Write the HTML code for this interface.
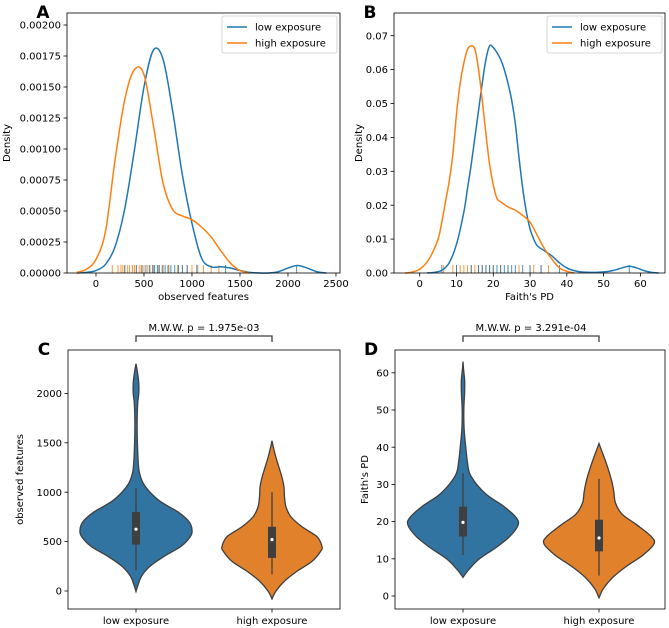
<!DOCTYPE html>
<html><head><meta charset="utf-8"><style>
body{margin:0;background:#fff}
svg{display:block;font-family:"DejaVu Sans","Liberation Sans",sans-serif}
</style></head><body>
<svg id="chart" width="669" height="628" viewBox="0 0 669 628"></svg>
<script>
// ---------- DATA ----------
const kdeAx = [-200,-100,0,100,200,300,400,500,600,700,800,900,1000,1100,1200,1300,1400,1500,1600,1700,1800,1900,2000,2100,2200,2300,2400];
const kdeAlow = [0,0.000005,0.00002,0.00007,0.000215,0.00052,0.00099,0.0015,0.0018,0.00172,0.0013,0.00079,0.0004,0.00012,0.00005,0.00005,0.00004,0.00002,0.000005,0,0,0.00001,0.00004,0.00006,0.00004,0.00001,0];
const kdeAhx = [-200,-100,0,100,200,300,400,500,600,700,800,900,1000,1100,1200,1300,1400,1500,1600];
const kdeAhigh = [0.000005,0.00003,0.00011,0.00034,0.00092,0.0014,0.00164,0.0016,0.00118,0.00072,0.00051,0.00046,0.00043,0.00037,0.00029,0.00018,0.00008,0.00002,0];
const rugAlow = [300,420,480,520,560,590,610,640,660,690,720,750,780,820,860,900,950,1050,1350,2090];
const rugAhigh = [170,230,260,280,300,330,350,380,400,420,450,470,500,540,560,600,650,700,760,850,900,950,1000,1060,1120,1200,1280];
const kdeBx = [2,4,6,8,10,12,13,14,15,16,17,18,19,20,21,22,23,24,25,26,27,28,29,30,31,32,34,36,38,40,42,44,48,52,55,57,59,61,63,65];
const kdeBlow = [0,0.0002,0.0008,0.003,0.0085,0.018,0.025,0.032,0.04,0.048,0.056,0.063,0.067,0.0665,0.065,0.063,0.06,0.056,0.051,0.044,0.034,0.025,0.018,0.013,0.01,0.008,0.0065,0.005,0.003,0.0015,0.0007,0.0003,0.0002,0.0006,0.0015,0.002,0.0015,0.0007,0.0002,0];
const kdeBhx = [-4,-3,-1,1,3,5,6,7,8,9,10,11,12,13,14,15,16,17,18,19,20,21,22,24,26,28,30,32,34,36,38,40,42];
const kdeBhigh = [0,0.0001,0.0006,0.002,0.005,0.01,0.015,0.021,0.027,0.035,0.047,0.056,0.062,0.066,0.067,0.066,0.06,0.051,0.041,0.032,0.026,0.022,0.021,0.0195,0.0185,0.017,0.015,0.011,0.007,0.004,0.0015,0.0005,0];
const rugBlow = [6,10,14,16,17,18,19,20,21,22,23,24,25,26,28,30,33,38,57];
const rugBhigh = [6.5,9,10,11,12,13,14,15,16,17,18,19,20,22,24,27,30,31,33,35];
const categories = ["low exposure","high exposure"];
const vCy_low = [-5,50,150,250,350,450,550,620,700,800,900,1000,1100,1200,1300,1500,1700,1900,2000,2100,2200,2300];
const vCw_low = [0,0.03,0.1,0.25,0.5,0.8,0.97,1,0.95,0.75,0.45,0.25,0.12,0.06,0.04,0.025,0.02,0.03,0.05,0.05,0.03,0];
const vCy_high = [-80,0,100,200,300,400,450,550,650,750,850,950,1050,1150,1250,1350,1450,1520];
const vCw_high = [0,0.08,0.25,0.5,0.8,0.97,1,0.9,0.6,0.38,0.28,0.25,0.24,0.2,0.14,0.08,0.03,0];
const boxC_low = [210,470,625,800,1040];
const boxC_high = [170,335,520,650,1000];
const vDy_low = [5,7,10,13,16,19,21,24,27,30,33,36,40,45,50,55,58,61,63];
const vDw_low = [0,0.1,0.3,0.6,0.85,1,0.97,0.75,0.45,0.25,0.12,0.08,0.05,0.02,0.015,0.03,0.03,0.01,0];
const vDy_high = [-0.5,2,5,8,11,14,16,19,22,25,28,31,34,37,39,41];
const vDw_high = [0,0.08,0.25,0.5,0.8,1,0.95,0.7,0.42,0.3,0.27,0.23,0.17,0.1,0.05,0];
const boxD_low = [11,16,19.8,24,33];
const boxD_high = [5.5,12,15.6,20.5,31.5];
const ticksAx=[0,500,1000,1500,2000,2500];
const ticksAy=[0,0.00025,0.0005,0.00075,0.001,0.00125,0.0015,0.00175,0.002];
const ticksBx=[0,10,20,30,40,50,60];
const ticksBy=[0,0.01,0.02,0.03,0.04,0.05,0.06,0.07];
const ticksCy=[0,500,1000,1500,2000];
const ticksDy=[0,10,20,30,40,50,60];

// ---------- DRAW ----------
const svg=document.getElementById('chart');
const NS='http://www.w3.org/2000/svg';
function mk(tag,attrs,parent,text){const e=document.createElementNS(NS,tag);for(const k in attrs)e.setAttribute(k,attrs[k]);if(text!==undefined)e.textContent=text;(parent||svg).appendChild(e);return e;}
function lin(d0,d1,p0,p1){return v=>p0+(v-d0)*(p1-p0)/(d1-d0);}
function smooth(pts){let d='M'+pts[0][0]+','+pts[0][1];for(let i=0;i<pts.length-1;i++){const p0=pts[Math.max(i-1,0)],p1=pts[i],p2=pts[i+1],p3=pts[Math.min(i+2,pts.length-1)];const c1=[p1[0]+(p2[0]-p0[0])/6,p1[1]+(p2[1]-p0[1])/6],c2=[p2[0]-(p3[0]-p1[0])/6,p2[1]-(p3[1]-p1[1])/6];d+=` C${c1[0]},${c1[1]} ${c2[0]},${c2[1]} ${p2[0]},${p2[1]}`;}return d;}
function frame(g,L,T,R,B){
  const r=mk('rect',{x:L,y:T,width:R-L,height:B-T,fill:'none',stroke:'#000','stroke-width':0.8},g);
  
  
}
function yTicks(g,ticks,sy,L,fmt,name){
  ticks.forEach(t=>{const y=sy(t);
    const l=mk('line',{x1:L-3.5,x2:L,y1:y,y2:y,stroke:'#000','stroke-width':0.8},g);
    
    
    const tx=mk('text',{x:L-6,y:y+3.6,'text-anchor':'end','font-size':10,fill:'#000'},g,fmt(t));
    
    
  });
}
function xTicks(g,ticks,sx,B,fmt,name){
  ticks.forEach(t=>{const x=sx(t);
    const l=mk('line',{x1:x,x2:x,y1:B,y2:B+3.5,stroke:'#000','stroke-width':0.8},g);
    
    
    const tx=mk('text',{x:x,y:B+14,'text-anchor':'middle','font-size':10,fill:'#000'},g,fmt(t));
    
    
  });
}
function label(g,txt,x,y,rot,name,size,weight){
  const t=mk('text',{x:x,y:y,'text-anchor':'middle','font-size':size||10,fill:'#000','font-weight':weight||'normal',transform:rot?`rotate(-90 ${x} ${y})`:''},g,txt);
  
  
}
function legend(g,x,y){
  const r=mk('rect',{x:x,y:y,width:115,height:37,fill:'#fff',stroke:'#ccc','stroke-width':0.8,rx:2},g);
  
  
  [['low exposure','#1f77b4'],['high exposure','#ff7f0e']].forEach((e,i)=>{
    const yy=y+11+i*16;
    const l=mk('line',{x1:x+5,x2:x+25,y1:yy,y2:yy,stroke:e[1],'stroke-width':1.5},g);
    
    
    const t=mk('text',{x:x+33,y:yy+3.6,'font-size':10,fill:'#000'},g,e[0]);
    
    
  });
}
function kdePanel(id,L,T,R,B,xd,yd,xs,lowX,lowY,hiX,hiY,rugL,rugH,tx,ty,fx,fy,xl,letter){
  const g=mk('g',{},svg);
  
  
  const sx=lin(xd[0],xd[1],L,R);
  const syy=v=>B-v*xs;
  rugH.forEach(v=>{const l=mk('line',{x1:sx(v),x2:sx(v),y1:B,y2:B-8,stroke:'#ff7f0e','stroke-width':1,opacity:0.8},g);
    
    });
  rugL.forEach(v=>{const l=mk('line',{x1:sx(v),x2:sx(v),y1:B,y2:B-8,stroke:'#1f77b4','stroke-width':1,opacity:0.8},g);
    
    });
  const p1=mk('path',{d:smooth(lowX.map((x,i)=>[sx(x),syy(lowY[i])])),fill:'none',stroke:'#1f77b4','stroke-width':1.5},g);
  
  
  const p2=mk('path',{d:smooth(hiX.map((x,i)=>[sx(x),syy(hiY[i])])),fill:'none',stroke:'#ff7f0e','stroke-width':1.5},g);
  
  
  frame(g,L,T,R,B);
  xTicks(g,tx,sx,B,fx,'x-axis');
  yTicks(g,ty,syy,L,fy,'y-axis');
  label(g,xl,(L+R)/2,B+27,false,'x-axis-title');
  label(g,'Density',L-57+(id==='B'?25:0),(T+B)/2,true,'y-axis-title');
  label(g,letter,L-24,T+5,false,'panel-letter',17,'bold');
  legend(g,R-118,T+3);
}
kdePanel('A',67,13,340,273,[-302,2542],0,124000,kdeAx,kdeAlow,kdeAhx,kdeAhigh,rugAlow,rugAhigh,ticksAx,ticksAy,v=>String(v),v=>v.toFixed(5),'observed features','A');
kdePanel('B',394,13,665,273,[-7,66.7],0,3390,kdeBx,kdeBlow,kdeBhx,kdeBhigh,rugBlow,rugBhigh,ticksBx,ticksBy,v=>String(v),v=>v.toFixed(2),"Faith's PD",'B');

function violinPanel(id,L,T,R,B,y0px,perUnit,cx,halfW,vy,vw,boxes,ty,ylab,pval,letter,ylx){
  const g=mk('g',{},svg);
  
  
  const sy=v=>y0px-v*perUnit;
  const fills=['#3274a1','#e1812c'];
  [0,1].forEach(i=>{
    const ys=vy[i],ws=vw[i];
    const right=ys.map((y,k)=>[cx[i]+ws[k]*halfW[i],sy(y)]);
    const left=ys.map((y,k)=>[cx[i]-ws[k]*halfW[i],sy(y)]).reverse();
    const d=smooth(right)+' L'+smooth(left).slice(1)+' Z';
    const p=mk('path',{d:d,fill:fills[i],stroke:'#3f3f3f','stroke-width':1.3},g);
    
    
    const b=boxes[i];
    const w=mk('line',{x1:cx[i],x2:cx[i],y1:sy(b[0]),y2:sy(b[4]),stroke:'#3f3f3f','stroke-width':1.3},g);
    
    
    const r=mk('rect',{x:cx[i]-4,y:sy(b[3]),width:8,height:sy(b[1])-sy(b[3]),fill:'#3f3f3f'},g);
    
    
    const m=mk('circle',{cx:cx[i],cy:sy(b[2]),r:1.6,fill:'#fff'},g);
    
    
    const t=mk('text',{x:cx[i],y:B+15,'text-anchor':'middle','font-size':10,fill:'#000'},g,categories[i]);
    
    
    const tk=mk('line',{x1:cx[i],x2:cx[i],y1:B,y2:B+3.5,stroke:'#000','stroke-width':0.8},g);
    
    
  });
  frame(g,L,T,R,B);
  yTicks(g,ty,sy,L,v=>String(v),'y-axis');
  label(g,ylab,ylx,(T+B)/2,true,'y-axis-title');
  label(g,letter,L-24,T+5,false,'panel-letter',17,'bold');
  const br=mk('path',{d:`M${cx[0]},${T-8} L${cx[0]},${T-14} L${cx[1]},${T-14} L${cx[1]},${T-8}`,fill:'none',stroke:'#3f3f3f','stroke-width':1.3},g);
  
  
  label(g,pval,(cx[0]+cx[1])/2,T-19,false,'p-value-annotation');
}
violinPanel('C',68,350,340,609,591,0.0988,[136,272],[56,50],[vCy_low,vCy_high],[vCw_low,vCw_high],[boxC_low,boxC_high],ticksCy,'observed features','M.W.W. p = 1.975e-03','C',23);
violinPanel('D',395,350,665,609,596,3.72,[463,599],[55,55],[vDy_low,vDy_high],[vDw_low,vDw_high],[boxD_low,boxD_high],ticksDy,"Faith's PD",'M.W.W. p = 3.291e-04','D',368);
</script>
</body></html>
